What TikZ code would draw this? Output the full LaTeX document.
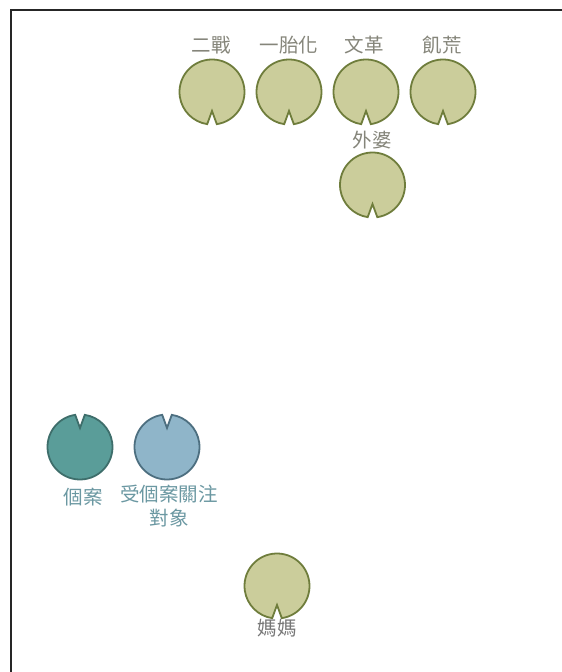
\documentclass[tikz,border=0pt]{standalone}
\usepackage{fontspec}
\newfontfamily\cjk{Noto Sans CJK TC}
\definecolor{olivefill}{HTML}{CBCD9B}
\definecolor{olivedraw}{HTML}{6F7D3C}
\definecolor{tealfill}{HTML}{5A9D99}
\definecolor{tealdraw}{HTML}{3E6E6B}
\definecolor{bluefill}{HTML}{8FB5C9}
\definecolor{bluedraw}{HTML}{4D6F80}
\definecolor{toptext}{HTML}{85857A}
\definecolor{casetext}{HTML}{6B98A2}
\definecolor{momtext}{HTML}{777777}
\tikzset{
  spot/.style={circle, minimum size=65pt, inner sep=0pt, draw=none},
  lbl/.style={font=\cjk\fontsize{19.5}{24}\selectfont, inner sep=0pt, align=center},
  olivepad/.style={fill=olivefill, draw=olivedraw, line width=1.8pt, line join=miter},
  tealpad/.style={fill=tealfill, draw=tealdraw, line width=1.8pt, line join=miter},
  bluepad/.style={fill=bluefill, draw=bluedraw, line width=1.8pt, line join=miter},
}
% #1 node name, #2 style, #3 notch direction angle
\newcommand{\notchpad}[3]{%
  \draw[#2, shift={(#1.center)}] (#3+8.5:32.5pt)
    arc[start angle=#3+8.5, end angle=#3+351.5, radius=32.5pt]
    -- (#3:19pt) -- cycle;}
\begin{document}
\begin{tikzpicture}[x=1pt,y=1pt]
\useasboundingbox (0,0) rectangle (562,672);
\fill[white] (0,0) rectangle (562,672);
\draw[line width=1.5pt, black!85] (11,0) -- (11,662) -- (562,662);

\node[spot] (war)    at (212,580) {};
\node[spot] (onechild) at (289,580) {};
\node[spot] (cultrev) at (366,580) {};
\node[spot] (famine) at (443,580) {};
\node[spot] (grandma) at (372.5,487) {};
\node[spot] (case)   at (80,225) {};
\node[spot] (target) at (167,225) {};
\node[spot] (mom)    at (277,86) {};

\notchpad{war}{olivepad}{270}
\notchpad{onechild}{olivepad}{270}
\notchpad{cultrev}{olivepad}{270}
\notchpad{famine}{olivepad}{270}
\notchpad{grandma}{olivepad}{270}
\notchpad{case}{tealpad}{90}
\notchpad{target}{bluepad}{90}
\notchpad{mom}{olivepad}{270}

\node[lbl, text=toptext] (lwar) at (211,627) {二戰};
\node[lbl, text=toptext] (lonechild) at (289,627) {一胎化};
\node[lbl, text=toptext] (lcultrev) at (364,627) {文革};
\node[lbl, text=toptext] (lfamine) at (442,627) {飢荒};
\node[lbl, text=toptext] (lgrandma) at (372,532) {外婆};
\node[lbl, text=casetext] (lcase) at (83,175) {個案};
\node[lbl, text=casetext, anchor=north] (ltarget) at (169,187) {受個案關注\\對象};
\node[lbl, text=momtext] (lmom) at (277,44) {媽媽};
\end{tikzpicture}
\end{document}
